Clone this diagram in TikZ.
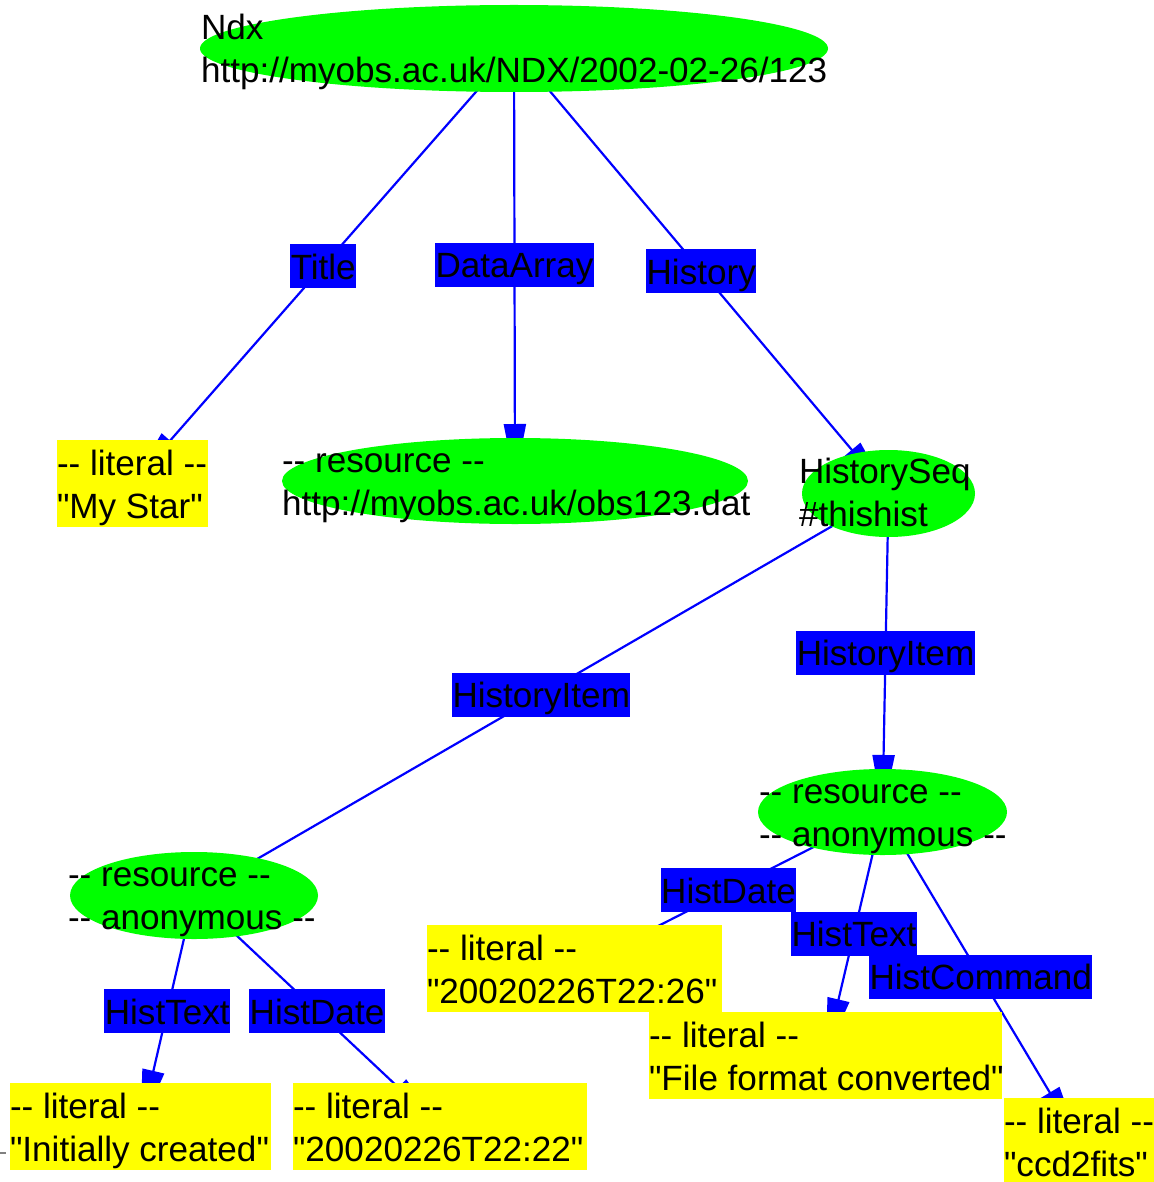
\documentclass[tikz,border=0pt]{standalone}
\usepackage{fontspec}
\newfontfamily\arialf{Liberation Sans}
\usetikzlibrary{shapes.geometric,arrows.meta,calc}
\pgfdeclarelayer{bg}
\pgfsetlayers{bg,main}
\definecolor{ngreen}{RGB}{0,255,0}
\definecolor{nblue}{RGB}{0,0,255}
\definecolor{nyellow}{RGB}{255,255,0}
\newcommand\dd{-\kern0pt-}
\newcommand\lblfont{\arialf\fontsize{35.1}{43}\selectfont}
\begin{document}
\begin{tikzpicture}[x=1pt,y=-1pt,
  res/.style={ellipse, fill=ngreen, draw=none, inner sep=0pt},
  lit/.style={rectangle, fill=nyellow, draw=none, inner sep=0pt, minimum height=87pt},
  txt/.style={anchor=base west, inner sep=0pt, font=\lblfont},
  lab/.style={fill=nblue, inner xsep=0.5pt, inner ysep=0pt, text height=35pt, text depth=9pt, font=\lblfont},
  conn/.style={draw=nblue, line width=2.2pt, -{Triangle[length=57pt,width=22pt]}}]
\useasboundingbox (0,0) rectangle (1153,1182);

% resource ellipses
\node[res, minimum width=628pt, minimum height=87pt] (ndx) at (514,48.5) {};
\node[res, minimum width=466pt, minimum height=86pt] (obs) at (515,481) {};
\node[res, minimum width=173pt, minimum height=87pt] (hseq) at (888.5,493.5) {};
\node[res, minimum width=249pt, minimum height=86pt] (ranon) at (882.5,812) {};
\node[res, minimum width=248pt, minimum height=87pt] (lanon) at (194,895.5) {};

% literal boxes
\node[lit, minimum width=151pt] (mystar) at (132.5,483.5) {};
\node[lit, minimum width=261pt] (init) at (140.5,1126.5) {};
\node[lit, minimum width=294pt] (d2222) at (440,1126.5) {};
\node[lit, minimum width=295pt] (d2226) at (574.5,968.5) {};
\node[lit, minimum width=353pt] (ffc) at (825.5,1055) {};
\node[lit, minimum width=150pt] (ccd) at (1079,1141.5) {};

% connectors
\begin{pgfonlayer}{bg}
\draw[conn] (ndx.center) -- (mystar.center);
\draw[conn] (ndx.center) -- (obs.center);
\draw[conn] (ndx.center) -- (hseq.center);
\draw[conn] (hseq.center) -- (lanon.center);
\draw[conn] (hseq.center) -- (ranon.center);
\draw[conn] (lanon.center) -- (init.center);
\draw[conn] (lanon.center) -- (d2222.center);
\draw[conn] (ranon.center) -- (d2226.center);
\draw[conn] (ranon.center) -- (ffc.center);
\draw[conn] (ranon.center) -- (ccd.center);
\end{pgfonlayer}

% node texts
\node[txt] (tndx1) at ([shift={(1,-9)}]ndx.west) {Ndx};
\node[txt] (tndx2) at ([shift={(1,34)}]ndx.west) {http://myobs.ac.uk/NDX/2002-02-26/123};
\node[txt] (tobs1) at ([shift={(0,-9)}]obs.west) {\dd{} resource \dd};
\node[txt] (tobs2) at ([shift={(0,34)}]obs.west) {http://myobs.ac.uk/obs123.dat};
\node[txt] (thseq1) at ([shift={(-3,-10)}]hseq.west) {HistorySeq};
\node[txt] (thseq2) at ([shift={(-3,33)}]hseq.west) {\#thishist};
\node[txt] (tran1) at ([shift={(1,-9)}]ranon.west) {\dd{} resource \dd};
\node[txt] (tran2) at ([shift={(1,34)}]ranon.west) {\dd{} anonymous \dd};
\node[txt] (tlan1) at ([shift={(-2,-9)}]lanon.west) {\dd{} resource \dd};
\node[txt] (tlan2) at ([shift={(-2,34)}]lanon.west) {\dd{} anonymous \dd};

\node[txt] (tms1) at ([shift={(0,36)}]mystar.north west) {\dd{} literal \dd};
\node[txt] (tms2) at ([shift={(0,79)}]mystar.north west) {"My Star"};
\node[txt] (tin1) at ([shift={(0,36)}]init.north west) {\dd{} literal \dd};
\node[txt] (tin2) at ([shift={(0,79)}]init.north west) {"Initially created"};
\node[txt] (t221) at ([shift={(0,36)}]d2222.north west) {\dd{} literal \dd};
\node[txt] (t222) at ([shift={(0,79)}]d2222.north west) {"20020226T22:22"};
\node[txt] (t261) at ([shift={(0,36)}]d2226.north west) {\dd{} literal \dd};
\node[txt] (t262) at ([shift={(0,79)}]d2226.north west) {"20020226T22:26"};
\node[txt] (tff1) at ([shift={(0,36)}]ffc.north west) {\dd{} literal \dd};
\node[txt] (tff2) at ([shift={(0,79)}]ffc.north west) {"File format converted"};
\node[txt] (tcc1) at ([shift={(0,36)}]ccd.north west) {\dd{} literal \dd};
\node[txt] (tcc2) at ([shift={(0,79)}]ccd.north west) {"ccd2fits"};

% edge labels
\node[lab] (lTitle) at ($(ndx.center)!0.5!(mystar.center)$) {Title};
\node[lab] (lData) at ($(ndx.center)!0.5!(obs.center)$) {DataArray};
\node[lab] (lHist) at ($(ndx.center)!0.5!(hseq.center)$) {History};
\node[lab] (lHI1) at ($(hseq.center)!0.5!(lanon.center)$) {HistoryItem};
\node[lab] (lHI2) at ($(hseq.center)!0.5!(ranon.center)$) {HistoryItem};
\node[lab] (lHT1) at ($(lanon.center)!0.5!(init.center)$) {HistText};
\node[lab] (lHD1) at ($(lanon.center)!0.5!(d2222.center)$) {HistDate};
\node[lab] (lHD2) at ($(ranon.center)!0.5!(d2226.center)$) {HistDate};
\node[lab] (lHT2) at ($(ranon.center)!0.5!(ffc.center)$) {HistText};
\node[lab] (lHC) at ($(ranon.center)!0.5!(ccd.center)$) {HistCommand};

% small grey mark at left edge
\coordinate (g1) at (0,1153);
\coordinate (g2) at (6,1153);
\draw[gray, line width=1.5pt] (g1) -- (g2);
\end{tikzpicture}
\end{document}
